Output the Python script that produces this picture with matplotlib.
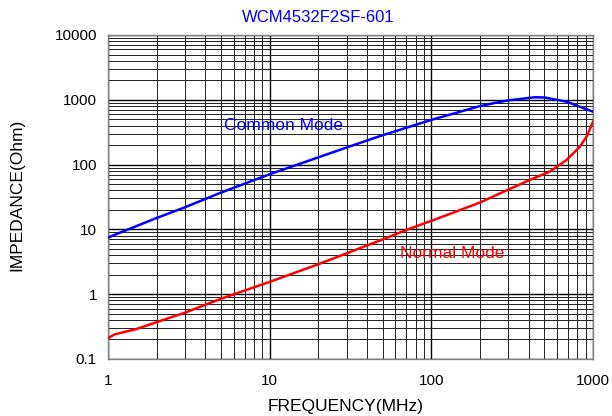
import matplotlib
matplotlib.use('Agg')
from matplotlib import pyplot as plt
from matplotlib.ticker import LogLocator, FixedLocator, FixedFormatter, NullFormatter

plt.rcParams['font.family'] = ['Liberation Sans', 'DejaVu Sans']

TITLE = 'WCM4532F2SF-601'

# common mode impedance (MHz, Ohm)
cm_freq = [1, 2, 3, 5, 10, 18, 30, 48, 100, 200, 266, 300, 437, 500, 687, 1000]
cm_ohm = [7.5, 15, 22, 37, 71, 118, 184, 275, 490, 800, 930, 980, 1095, 1085, 935, 655]

# normal mode impedance (MHz, Ohm)
nm_freq = [1, 1.1, 1.5, 2, 3, 5, 10, 20, 36, 50, 70, 110, 200, 266, 407, 541, 687, 830, 920, 1000]
nm_ohm = [0.21, 0.24, 0.29, 0.37, 0.52, 0.85, 1.55, 2.9, 5.1, 7.0, 9.8, 14.8, 26, 36, 58, 78, 118, 189, 280, 460]

x_ticks = [1, 10, 100, 1000]
x_labels = ['1', '10', '100', '1000']
y_ticks = [0.1, 1, 10, 100, 1000, 10000]
y_labels = ['0.1', '1', '10', '100', '1000', '10000']

fig = plt.figure(figsize=(6.12, 4.16), dpi=100)
ax = fig.add_axes([108/612, 1 - 359/416, 485/612, 324/416])

ax.plot(cm_freq, cm_ohm, color='#0000ff', lw=1.8, zorder=3)
ax.plot(nm_freq, nm_ohm, color='#ff0000', lw=1.8, zorder=3)

ax.set_xscale('log')
ax.set_yscale('log')
ax.set_xlim(1, 1000)
ax.set_ylim(0.1, 10000)

ax.xaxis.set_major_locator(FixedLocator(x_ticks))
ax.xaxis.set_major_formatter(FixedFormatter(x_labels))
ax.yaxis.set_major_locator(FixedLocator(y_ticks))
ax.yaxis.set_major_formatter(FixedFormatter(y_labels))
ax.xaxis.set_minor_locator(LogLocator(base=10, subs=range(2, 10), numticks=20))
ax.yaxis.set_minor_locator(LogLocator(base=10, subs=range(2, 10), numticks=20))
ax.xaxis.set_minor_formatter(NullFormatter())
ax.yaxis.set_minor_formatter(NullFormatter())

ax.grid(True, which='major', color='black', lw=1.0)
ax.grid(True, which='minor', color='#202020', lw=0.7)
ax.tick_params(which='both', length=0, labelsize=11, colors='black')
ax.tick_params(axis='y', pad=8)
ax.tick_params(axis='x', pad=11)
for s in ax.spines.values():
    s.set_color('#808080')
    s.set_linewidth(1.0)

fig.text(284/612, 1 - 126/416, 'Common Mode', color='#0000ff', fontsize=12.5, ha='center', va='center')
fig.text(452/612, 1 - 253/416, 'Normal Mode', color='#ff0000', fontsize=12.5, ha='center', va='center')

fig.text(318/612, 1 - 17/416, TITLE, color='#0000ff', fontsize=12, ha='center', va='center')
fig.text(346/612, 1 - 406/416, 'FREQUENCY(MHz)', fontsize=12.5, ha='center', va='center')
fig.text(17/612, 1 - 195/416, 'IMPEDANCE(Ohm)', fontsize=12.5, ha='center', va='center', rotation=90)

fig.savefig('out.png', dpi=100)
